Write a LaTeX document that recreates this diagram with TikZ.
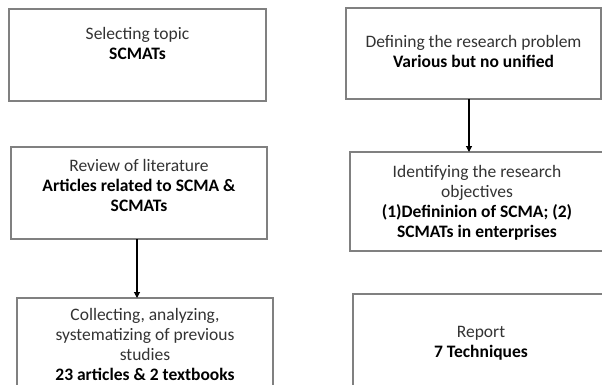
\documentclass[tikz,border=0pt]{standalone}
\usepackage{fontspec}
\setmainfont{Carlito}
\usetikzlibrary{arrows.meta}
\begin{document}
\begin{tikzpicture}[x=1pt,y=-1pt,
  box/.style={draw=black!50, line width=1.2pt, inner sep=0pt, outer sep=0pt, anchor=north west},
  txt/.style={align=center, font=\fontsize{17.5}{20}\selectfont, text=black!80, inner sep=0pt, anchor=base},
  arr/.style={-{Triangle[width=6pt,length=6pt]}, line width=1.1pt, black}]
\useasboundingbox (0,0) rectangle (602,385);
\clip (0,0) rectangle (602,385);
\node[box, minimum width=257pt, minimum height=92pt] (b1) at (9,9) {};
\node[box, minimum width=255pt, minimum height=91pt] (b2) at (346,8) {};
\node[box, minimum width=256pt, minimum height=92pt] (b3) at (11,147) {};
\node[box, minimum width=254pt, minimum height=99pt] (b4) at (350,152) {};
\node[box, minimum width=256pt, minimum height=95pt] (b5) at (17,298) {};
\node[box, minimum width=256pt, minimum height=95pt] (b6) at (353,294) {};
\node[txt] (t1) at ([yshift=-51pt]b1.north) {Selecting topic\\\textcolor{black}{\textbf{SCMATs}}};
\node[txt] (t2) at ([yshift=-60pt]b2.north) {Defining the research problem\\\textcolor{black}{\textbf{Various but no unified}}};
\node[txt] (t3) at ([yshift=-64pt]b3.north) {Review of literature\\\textcolor{black}{\textbf{Articles related to SCMA \&}}\\\textcolor{black}{\textbf{SCMATs}}};
\node[txt] (t4) at ([yshift=-85pt]b4.north) {Identifying the research\\objectives\\\textcolor{black}{\textbf{(1)Defininion of SCMA; (2)}}\\\textcolor{black}{\textbf{SCMATs in enterprises}}};
\node[txt] (t5) at ([yshift=-82pt]b5.north) {Collecting, analyzing,\\systematizing of previous\\studies\\\textcolor{black}{\textbf{23 articles \& 2 textbooks}}};
\node[txt] (t6) at ([yshift=-63pt]b6.north) {Report\\\textcolor{black}{\textbf{7 Techniques}}};
\coordinate (a1) at (137,0);
\coordinate (a2) at (469,0);
\draw[arr] (b3.south -| a1) -- (b5.north -| a1);
\draw[arr] (b2.south -| a2) -- (b4.north -| a2);
\end{tikzpicture}
\end{document}
